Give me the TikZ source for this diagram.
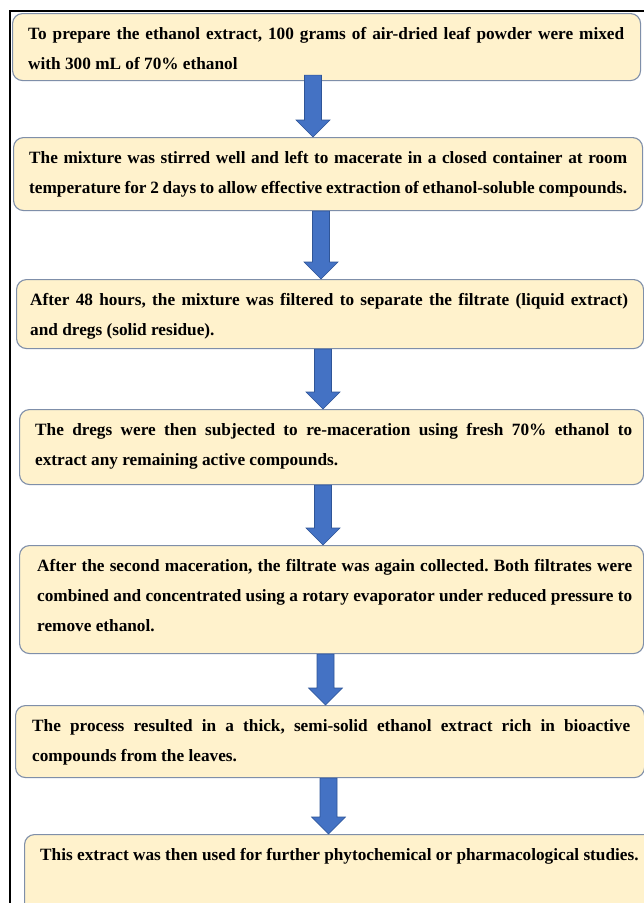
\documentclass[tikz,border=0pt]{standalone}
\usepackage{fontspec}
\setmainfont{Liberation Serif}
\usetikzlibrary{calc}
\definecolor{boxfill}{HTML}{FFF2CC}
\definecolor{boxline}{HTML}{7F8FA9}
\definecolor{arrowfill}{HTML}{4472C4}
\definecolor{arrowline}{HTML}{2F5597}
\frenchspacing
\newcommand\nohyph{\hyphenpenalty=10000\relax\exhyphenpenalty=10000\relax}
\newcommand\flowarrow[2]{%
  \draw[blockarrow] ($(#1)+(-8.5,0)$) -- ($(#2)+(-8.5,-17)$) -- ($(#2)+(-17,-17)$) -- (#2)
    -- ($(#2)+(17,-17)$) -- ($(#2)+(8.5,-17)$) -- ($(#1)+(8.5,0)$) -- cycle;}
\begin{document}
\begin{tikzpicture}[x=1pt,y=-1pt,
  stepbox/.style={draw=boxline, line width=1.1pt, fill=boxfill, rounded corners=10pt,
    anchor=north west, inner sep=0pt},
  steptext/.style={anchor=north west, inner sep=0pt, align=justify, text=black,
    font=\bfseries\fontsize{17.25}{30}\selectfont},
  blockarrow/.style={fill=arrowfill, draw=arrowline, line width=0.6pt}]
\useasboundingbox (0,0) rectangle (644,903);
\fill[white] (0,0) rectangle (644,903);
\draw[line width=2pt] (10,903) -- (10,11) -- (644,11);

\node[stepbox, minimum width=628pt, minimum height=67pt] (b1) at (12,13) {};
\node[stepbox, minimum width=629pt, minimum height=73pt] (b2) at (13,137) {};
\node[stepbox, minimum width=627pt, minimum height=69pt] (b3) at (16,279) {};
\node[stepbox, minimum width=624pt, minimum height=75pt] (b4) at (19,409) {};
\node[stepbox, minimum width=624pt, minimum height=108pt] (b5) at (19,545) {};
\node[stepbox, minimum width=629pt, minimum height=72pt] (b6) at (15,705) {};
\node[stepbox, minimum width=640pt, minimum height=80pt] (b7) at (24,834) {};

\node[steptext, text width=596pt] (t1) at ($(b1.north west)+(16,5)$)
  {\nohyph\strut To prepare the ethanol extract, 100 grams of air-dried leaf powder were mixed\linebreak with 300 mL of 70\% ethanol};
\node[steptext, text width=598pt] (t2) at ($(b2.north west)+(16,5)$)
  {\nohyph\parfillskip=0pt\relax\strut The mixture was stirred well and left to macerate in a closed container at room\linebreak temperature for 2 days to allow effective extraction of ethanol-soluble compounds.};
\node[steptext, text width=598pt] (t3) at ($(b3.north west)+(14,5)$)
  {\nohyph\strut After 48 hours, the mixture was filtered to separate the filtrate (liquid extract)\linebreak and dregs (solid residue).};
\node[steptext, text width=597pt] (t4) at ($(b4.north west)+(16,5)$)
  {\nohyph\strut The dregs were then subjected to re-maceration using fresh 70\% ethanol to\linebreak extract any remaining active compounds.};
\node[steptext, text width=595pt] (t5) at ($(b5.north west)+(18,5)$)
  {\nohyph\strut After the second maceration, the filtrate was again collected. Both filtrates were\linebreak combined and concentrated using a rotary evaporator under reduced pressure to\linebreak remove ethanol.};
\node[steptext, text width=598pt] (t6) at ($(b6.north west)+(17,5)$)
  {\nohyph\strut The process resulted in a thick, semi-solid ethanol extract rich in bioactive\linebreak compounds from the leaves.};
\node[steptext, text width=610pt] (t7) at ($(b7.north west)+(16,5)$)
  {\nohyph\strut This extract was then used for further phytochemical or pharmacological studies.};

\coordinate (a1t) at ($(313,0 |- b1.south)+(0,-6)$);
\coordinate (a1b) at (313,0 |- b2.north);
\coordinate (a2t) at (321,0 |- b2.south);
\coordinate (a2b) at (321,0 |- b3.north);
\coordinate (a3t) at (323,0 |- b3.south);
\coordinate (a3b) at (323,0 |- b4.north);
\coordinate (a4t) at (323,0 |- b4.south);
\coordinate (a4b) at (323,0 |- b5.north);
\coordinate (a5t) at (325.5,0 |- b5.south);
\coordinate (a5b) at (325.5,0 |- b6.north);
\coordinate (a6t) at (328.5,0 |- b6.south);
\coordinate (a6b) at (328.5,0 |- b7.north);
\flowarrow{a1t}{a1b}
\flowarrow{a2t}{a2b}
\flowarrow{a3t}{a3b}
\flowarrow{a4t}{a4b}
\flowarrow{a5t}{a5b}
\flowarrow{a6t}{a6b}
\end{tikzpicture}
\end{document}
